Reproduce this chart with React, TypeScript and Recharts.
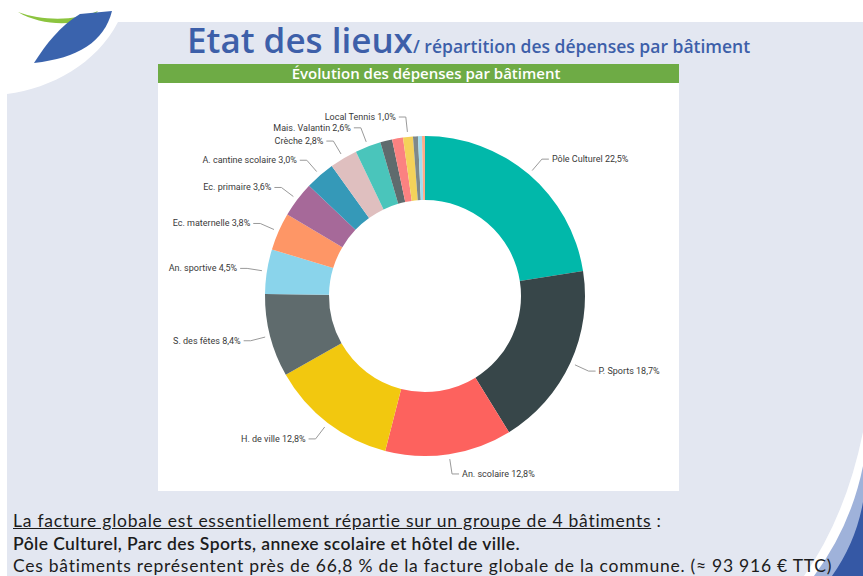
import React from "react";
import { PieChart, Pie, Cell } from "recharts";

// Power BI donut: share of energy spend per building (%), clockwise from 12 o'clock
const buildings = [
  "Pôle Culturel",
  "P. Sports",
  "An. scolaire",
  "H. de ville",
  "S. des fêtes",
  "An. sportive",
  "Ec. maternelle",
  "Ec. primaire",
  "A. cantine scolaire",
  "Crèche",
  "Mais. Valantin",
  "",
  "",
  "Local Tennis",
  "",
  "",
  "",
];

const shares = [22.5, 18.7, 12.8, 12.8, 8.4, 4.5, 3.8, 3.6, 3.0, 2.8, 2.6, 1.2, 1.1, 1.0, 0.5, 0.4, 0.3];

const colors = [
  "#01B8AA",
  "#374649",
  "#FD625E",
  "#F2C80F",
  "#5F6B6D",
  "#8AD4EB",
  "#FE9666",
  "#A66999",
  "#3599B8",
  "#DFBFBF",
  "#4AC5BB",
  "#5F6B6D",
  "#FB8281",
  "#F4D25A",
  "#7F898A",
  "#A4DDEE",
  "#FDAB89",
];

const data = buildings.map((name, i) => ({ name, value: shares[i] }));

const RAD = Math.PI / 180;
const BLUE = "#3d5fa9";
const PAGE_BG = "#e3e7f1";

function fmtPct(v: number) {
  return `${v.toFixed(1).replace(".", ",")}%`;
}

// leader: short radial segment, then a horizontal tick, text after it
function renderLabel(props: any) {
  const { cx, cy, midAngle, outerRadius, index } = props;
  const name = buildings[index];
  if (!name) return null;
  const cos = Math.cos(-midAngle * RAD);
  const sin = Math.sin(-midAngle * RAD);
  const sx = cx + (outerRadius + 5) * cos;
  const sy = cy + (outerRadius + 5) * sin;
  const mx = cx + (outerRadius + 20) * cos;
  const my = cy + (outerRadius + 20) * sin;
  const right = cos >= 0;
  const ex = mx + (right ? 7 : -7);
  return (
    <g key={`lbl-${index}`}>
      <polyline
        points={`${sx},${sy} ${mx},${my} ${ex},${my}`}
        fill="none"
        stroke="#9a9a9a"
        strokeWidth={1}
      />
      <text
        x={ex + (right ? 3 : -3)}
        y={my}
        textAnchor={right ? "start" : "end"}
        dominantBaseline="central"
        fontFamily="Roboto, sans-serif"
        fontSize={9}
        fill="#3a3a3a"
      >
        {`${name} ${fmtPct(shares[index])}`}
      </text>
    </g>
  );
}

function Decor() {
  return (
    <svg width={863} height={576} style={{ position: "absolute", left: 0, top: 0 }}>
      <rect x={0} y={0} width={863} height={576} fill="#ffffff" />
      <path d="M118,22 L863,22 L863,576 L7,576 L7,94 C52,88 96,64 118,22 Z" fill={PAGE_BG} />
      {/* logo swooshes */}
      <path d="M18,12 C42,21 76,21 98,11 C88,26 44,28 18,12 Z" fill="#8cc43f" />
      <path d="M80,14 L112,11 C104,42 78,58 34,63 C46,44 60,26 80,14 Z" fill="#3a63ad" />
      {/* bottom-right corner swoosh */}
      <path d="M804,576 Q846,516 863,432 L863,576 Z" fill="#ffffff" />
      <path d="M814,576 Q851,526 863,466 L863,576 Z" fill="#9fb2da" />
      <path d="M832,576 Q856,542 863,502 L863,576 Z" fill="#3558a5" />
      {/* headings */}
      <text x={187} y={53} fontFamily="'Open Sans', sans-serif" fontWeight={600} fontSize={35} fill={BLUE}>
        Etat des lieux
      </text>
      <text x={413} y={53} fontFamily="'Open Sans', sans-serif" fontWeight={600} fontSize={17.5} fill={BLUE}>
        / répartition des dépenses par bâtiment
      </text>
      <rect x={158} y={64} width={521} height={19} fill="#6eab45" />
      <text
        x={426}
        y={79}
        textAnchor="middle"
        fontFamily="'Open Sans', sans-serif"
        fontWeight={600}
        fontSize={15}
        fill="#ffffff"
      >
        Évolution des dépenses par bâtiment
      </text>
      <rect x={158} y={83} width={521} height={408} fill="#ffffff" />
    </svg>
  );
}

export default function App() {
  return (
    <div
      style={{
        position: "absolute",
        left: 0,
        top: 0,
        width: 863,
        height: 576,
        overflow: "hidden",
        background: "#ffffff",
      }}
    >
      <Decor />
      <div style={{ position: "absolute", left: 158, top: 83 }}>
        <PieChart width={521} height={408} margin={{ top: 0, right: 0, bottom: 0, left: 0 }}>
          <Pie
            data={data}
            dataKey="value"
            nameKey="name"
            cx={267}
            cy={213}
            innerRadius={96}
            outerRadius={160}
            startAngle={90}
            endAngle={-270}
            stroke="none"
            label={renderLabel}
            labelLine={false}
            isAnimationActive={false}
          >
            {data.map((d, i) => (
              <Cell key={`cell-${i}`} fill={colors[i]} />
            ))}
          </Pie>
        </PieChart>
      </div>
      <div
        style={{
          position: "absolute",
          left: 13,
          top: 510,
          fontFamily: "Lato, sans-serif",
          fontSize: 17.5,
          letterSpacing: 0.75,
          lineHeight: "22.5px",
          color: "#1c1c1c",
          whiteSpace: "nowrap",
        }}
      >
        <div>
          <span style={{ textDecoration: "underline" }}>
            La facture globale est essentiellement répartie sur un groupe de 4 bâtiments
          </span>{" "}
          :
        </div>
        <div style={{ fontWeight: 600, letterSpacing: 0.4 }}>
          Pôle Culturel, Parc des Sports, annexe scolaire et hôtel de ville.
        </div>
        <div>
          Ces bâtiments représentent près de 66,8 % de la facture globale de la commune. (≈ 93 916 € TTC)
        </div>
      </div>
    </div>
  );
}
